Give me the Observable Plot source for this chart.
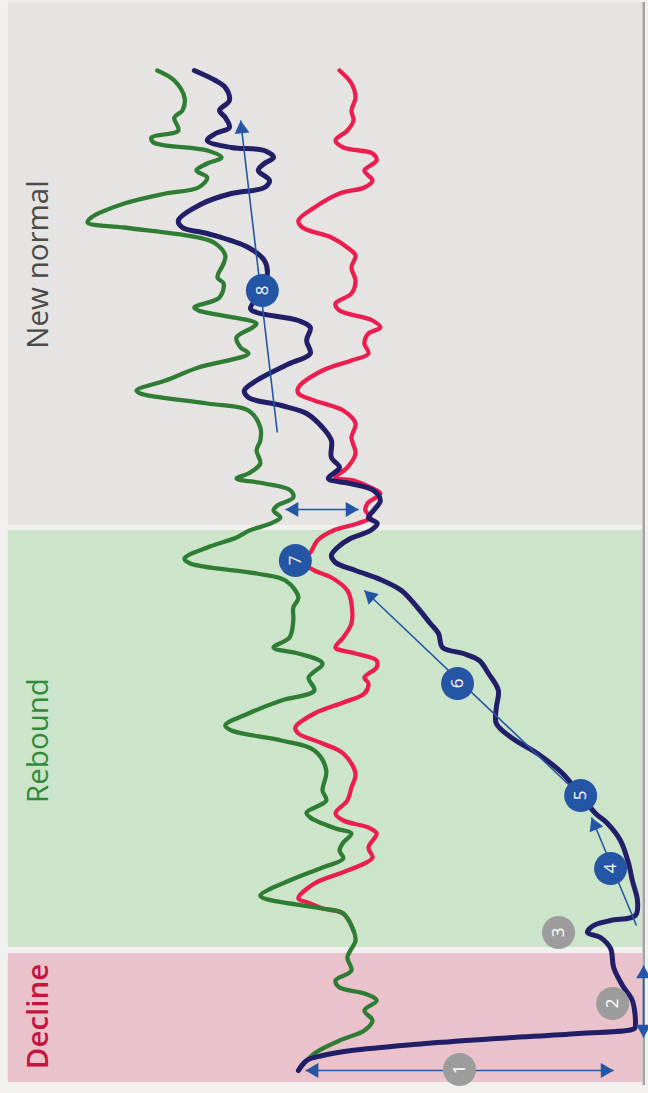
<!DOCTYPE html>
<html><head><meta charset="utf-8">
<script src="https://cdn.jsdelivr.net/npm/d3@7"></script>
<script src="https://cdn.jsdelivr.net/npm/@observablehq/plot@0.6"></script>
<style>html,body{margin:0;padding:0;background:#f1f0ef;overflow:hidden}#chart svg{display:block}</style>
</head><body><div id="chart"></div>
<script>
// ---- data (time t runs bottom->top, value v: higher = further left) ----
const phaseNames = ["Decline", "Rebound", "New normal"];
const phaseStart = [-1.2, 12.3, 54.5];
const phaseEnd   = [11.7, 54.0, 106.8];
const phaseLabelT = [5.4, 33.0, 80.6];

const navyT = [0,1.0,1.5,2.0,2.6,3.2,3.7,4.2,4.5,7.0,8.5,10.3,12.2,13.3,13.8,14.5,15.0,15.5,17.0,19.0,20.7,23.0,24.7,25.7,27.5,29.7,31.7,33.2,34.7,36.3,38.0,39.7,41.0,41.7,42.3,43.7,44.7,46.3,48.0,49.1,50.0,50.8,51.5,52.3,53.2,54.0,54.7,55.3,56.0,57.0,58.0,58.7,59.2,60.3,61.3,63.0,64.3,65.7,66.5,67.3,68.0,69.0,70.7,71.7,73.0,74.3,75.0,75.8,76.2,78.0,79.8,81.0,82.3,83.7,84.3,85.0,86.7,87.7,88.3,89.0,90.0,90.7,91.3,92.0,92.3,93.0,93.7,94.3,95.3,96.0,97.0,98.3,99.0,100.0];
const navyV = [100.6,98.2,93.5,85.0,66.8,42.4,18.2,1.8,1.5,2.4,5.3,7.9,8.8,11.8,15.6,13.8,8.8,1.5,0.9,2.4,3.5,5.9,9.7,13.2,17.6,22.9,30.3,37.6,42.4,42.4,41.8,44.7,47.4,52.1,58.2,59.4,61.8,65.6,70.3,76.5,83.8,89.7,90.9,89.1,85.3,79.4,77.4,80.0,78.5,76.5,78.5,85.3,91.8,88.5,90.9,90.9,93.5,98.2,105.6,115.3,116.5,112.9,103.2,97.1,98.2,97.1,100.6,112.9,114.7,111.2,109.7,110.6,115.3,127.4,134.7,135.9,128.8,120.3,110.6,109.1,112.4,110.6,107.9,110.6,120.3,127.4,125.0,120.9,122.1,123.8,120.9,122.1,125.0,131.2];

const greenT = [0,1.7,3.0,4.0,5.0,6.0,7.0,7.7,8.3,9.0,10.0,11.3,13.0,14.0,15.7,16.2,17.2,17.5,19.0,20.3,21.2,22.0,22.8,23.7,24.2,25.3,25.8,27.0,28.0,30.0,32.0,33.0,34.0,34.5,35.7,37.0,38.0,39.3,40.7,41.7,42.3,43.3,45.0,46.3,47.3,49.0,49.7,50.7,51.2,52.3,53.3,54.0,54.7,55.3,56.0,56.5,57.3,58.0,58.7,59.2,59.7,60.7,62.0,63.0,64.3,66.0,66.7,67.7,68.0,69.0,70.3,71.7,72.3,73.3,74.3,74.7,76.0,76.3,77.3,78.7,79.3,80.7,81.5,82.7,83.3,84.3,84.8,85.3,86.7,87.7,88.3,89.3,90.0,90.7,91.3,92.0,92.8,93.3,94.0,95.3,96.0,97.3,99.0,100.0];
const greenV = [100.6,95.9,88.5,81.2,78.8,81.2,77.6,81.2,88.5,89.7,85.0,86.2,83.8,84.4,87.4,93.5,110.6,111.8,103.2,93.5,87.4,88.5,87.4,85.0,89.7,97.1,98.2,92.4,93.5,92.4,95.9,105.6,120.3,122.1,115.3,105.6,95.9,97.6,93.5,100.6,107.9,103.2,102.1,102.1,100.6,104.4,112.9,132.4,134.1,127.4,118.8,115.0,108.8,105.9,107.9,106.8,102.1,102.9,110.6,118.8,115.3,111.8,112.9,111.8,111.8,115.3,127.4,147.1,148.2,139.7,130.0,115.3,117.6,118.8,114.1,112.9,130.0,131.2,123.8,122.6,124.4,122.6,122.1,125.0,130.0,151.8,162.6,161.5,151.8,139.7,130.0,127.4,130.6,127.4,123.2,127.4,143.2,143.8,135.9,137.1,134.7,134.1,137.1,142.1];

const redT = [14.0,15.7,16.2,16.8,17.2,18.7,19.7,20.7,21.3,22.3,23.7,24.3,25.0,25.7,27.0,28.3,29.7,31.7,32.7,33.7,34.3,35.7,36.8,37.7,38.7,39.3,40.3,41.0,41.7,42.3,43.3,44.7,46.7,48.0,49.3,50.0,51.0,51.8,53.0,54.0,54.7,55.3,56.0,56.7,57.7,58.3,59.0,59.3,60.3,61.7,63.3,64.7,66.0,67.0,67.7,68.3,70.0,71.0,71.7,72.7,73.7,74.3,75.0,76.0,76.7,77.7,79.0,80.3,81.5,82.3,83.3,84.3,85.0,86.3,87.7,88.3,89.0,90.0,91.0,91.7,92.3,93.0,94.0,95.0,96.0,97.3,98.7,100.0];
const redV = [84.4,87.4,93.5,97.8,100.6,95.9,88.5,81.2,78.8,80.0,77.6,80.0,87.4,89.7,86.2,85.0,83.8,87.4,93.5,100.6,101.5,95.9,87.4,81.2,80.0,81.2,77.6,77.6,83.8,89.7,87.4,85.0,85.0,86.2,90.9,95.9,100.0,97.1,95.0,90.3,83.2,79.4,80.9,80.3,76.5,79.4,84.4,89.7,86.2,83.8,85.0,83.8,87.4,95.9,100.6,100.6,93.5,85.0,80.0,81.2,80.0,76.5,78.8,88.5,89.7,85.0,83.8,85.0,83.8,86.2,90.9,99.4,100.6,95.9,88.5,81.2,78.8,81.2,77.6,78.8,87.4,89.7,86.2,84.4,85.0,83.8,85.0,88.5];

// annotation arrows
const arrowT1 = [0, 10.5, 14.5, 27.0, 56.1, 63.8];
const arrowV1 = [98.5, -0.9, 1.2, 16.2, 104.4, 106.8];
const arrowT2 = [0, 3.3, 25.3, 48.0, 56.1, 95.0];
const arrowV2 = [7.9, -0.9, 14.4, 81.2, 82.9, 117.6];
const arrowBoth = [true, true, false, false, true, false];

// numbered markers
const markerLabel = ["1","2","3","4","5","6","7","8"];
const markerT = [0.1, 6.7, 13.8, 20.2, 27.5, 38.7, 51.0, 78.0];
const markerV = [53.2, 8.2, 24.1, 8.8, 17.6, 53.8, 101.5, 111.2];
const markerKind = ["grey","grey","grey","blue","blue","blue","blue","blue"];

// ---- styles / layout ----
const W = 648, H = 1093;
const xDomain = [188.2, -2.35], yDomain = [-2.3, 107];
const panelV = [185.9, -0.6];
const labelV = 177.1;
const phaseFill = {"Decline": "#eac2cc", "Rebound": "#cce5ca", "New normal": "#e5e4e2"};
const phaseText = {"Decline": "#c41541", "Rebound": "#2f8a3a", "New normal": "#4a4a4a"};
const phaseWeight = {"Decline": 600, "Rebound": 500, "New normal": 400};
const BLUE = "#2556a5", GREY = "#9c9c9c";

const series = (T, V) => T.map((t, i) => ({t, v: V[i]}));
const navy = series(navyT, navyV), green = series(greenT, greenV), red = series(redT, redV);
const phases = phaseNames.map((name, i) => ({name, t1: phaseStart[i], t2: phaseEnd[i], lt: phaseLabelT[i]}));
const arrows = arrowT1.map((t, i) => ({t1: t, v1: arrowV1[i], t2: arrowT2[i], v2: arrowV2[i], both: arrowBoth[i]}));
const markers = markerLabel.map((l, i) => ({label: l, t: markerT[i], v: markerV[i], kind: markerKind[i]}));

// arrowheads: filled triangles, oriented along the arrow in screen space
const xs = d3.scaleLinear(xDomain, [0, W]), ys = d3.scaleLinear(yDomain, [H, 0]);
const HR = 5.5;
function head(tipV, tipT, fromV, fromT) {
  const px = xs(tipV), py = ys(tipT), ox = xs(fromV), oy = ys(fromT);
  let dx = px - ox, dy = py - oy; const L = Math.hypot(dx, dy); dx /= L; dy /= L;
  const off = 1.555 * HR;
  return {v: xs.invert(px - dx * off), t: ys.invert(py - dy * off), rot: Math.atan2(dx, -dy) * 180 / Math.PI};
}
const heads = [];
arrows.forEach(a => {
  heads.push(head(a.v2, a.t2, a.v1, a.t1));
  if (a.both) heads.push(head(a.v1, a.t1, a.v2, a.t2));
});

const plot = Plot.plot({
  width: W, height: H,
  margin: 0,
  x: {domain: xDomain, axis: null},
  y: {domain: yDomain, axis: null},
  style: {background: "transparent"},
  marks: [
    Plot.rect(phases, {x1: panelV[0], x2: panelV[1], y1: "t1", y2: "t2", fill: d => phaseFill[d.name]}),
    Plot.ruleX([panelV[1] - 0.35], {y1: -1.5, y2: 106.8, stroke: "#a3a3a3", strokeWidth: 2.5}),
    ...phaseNames.map(n => Plot.text(phases.filter(d => d.name === n), {
      x: labelV, y: "lt", text: "name", rotate: -90, fill: phaseText[n],
      fontSize: 29.5, fontWeight: phaseWeight[n], fontFamily: "Open Sans, sans-serif",
      textAnchor: "middle", lineAnchor: "middle"
    })),
    Plot.line(red, {x: "v", y: "t", stroke: "#ec1d4f", strokeWidth: 4.3, curve: "catmull-rom", strokeLinecap: "round", strokeLinejoin: "round"}),
    Plot.line(green, {x: "v", y: "t", stroke: "#2f7d34", strokeWidth: 4.3, curve: "catmull-rom", strokeLinecap: "round", strokeLinejoin: "round"}),
    Plot.line(navy, {x: "v", y: "t", stroke: "#221f68", strokeWidth: 5, curve: "catmull-rom", strokeLinecap: "round", strokeLinejoin: "round"}),
    Plot.link(arrows, {x1: "v1", y1: "t1", x2: "v2", y2: "t2", stroke: BLUE, strokeWidth: 1.6}),
    Plot.dot(heads, {x: "v", y: "t", rotate: "rot", symbol: "triangle", r: HR, fill: BLUE, stroke: "none"}),
    Plot.dot(markers, {x: "v", y: "t", r: 16.5, fill: d => d.kind === "blue" ? BLUE : GREY, stroke: "none"}),
    Plot.text(markers, {x: "v", y: "t", text: "label", rotate: -90, fill: "white", fontSize: 17, fontFamily: "Open Sans, sans-serif", textAnchor: "middle", lineAnchor: "middle"})
  ]
});
document.getElementById("chart").append(plot);
</script></body></html>
